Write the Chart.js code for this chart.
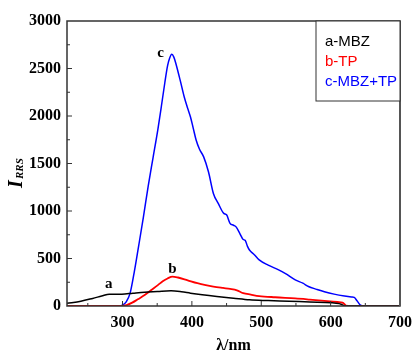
<!DOCTYPE html>
<html>
<head>
<meta charset="utf-8">
<script src="https://cdn.jsdelivr.net/npm/chart.js@4/dist/chart.umd.min.js"></script>
<style>
  html, body { margin: 0; padding: 0; background: #fff; }
  #wrap { width: 419px; height: 355px; position: relative; }
</style>
</head>
<body>
<div id="wrap"><canvas id="rrsChart" width="419" height="355"></canvas></div>
<script>
// --- Data ---
const xTicks = [300, 400, 500, 600, 700];
const yTicks = [0, 500, 1000, 1500, 2000, 2500, 3000];

const mbzX = [220, 240, 257, 270, 281, 299, 315, 332, 350, 370, 385, 398, 415, 436, 460, 483, 510, 540, 570, 601, 612, 617, 621, 640, 700];
const mbzY = [28, 50, 80, 105, 125, 125, 135, 145, 152, 160, 150, 135, 118, 100, 82, 65, 57, 50, 42, 35, 25, 12, 0, 0, 0];

const tpX = [220, 300, 306, 314, 322, 332, 341, 351, 358, 365, 372, 380, 394, 408, 420, 431, 445, 455, 465, 474, 485, 497, 520, 549, 570, 591, 610, 617, 620, 622, 640, 700];
const tpY = [0, 0, 10, 35, 70, 115, 165, 220, 260, 290, 310, 300, 270, 240, 220, 205, 190, 180, 165, 135, 120, 105, 92, 80, 68, 55, 42, 35, 20, 5, 0, 0];

const combX = [220, 297, 300, 305, 311, 317, 323, 330, 337, 344, 351, 356, 361, 365, 368, 371, 374, 377, 383, 389, 394, 398, 402, 406, 411, 417, 424, 431, 438, 446, 450, 455, 460, 464, 469, 474, 477, 480, 483, 490, 497, 510, 525, 535, 549, 560, 568, 580, 591, 605, 620, 630, 634, 638, 643, 650, 700];
const combY = [0, 0, 10, 40, 135, 360, 620, 930, 1260, 1560, 1860, 2100, 2350, 2530, 2610, 2650, 2620, 2550, 2380, 2200, 2080, 1990, 1870, 1750, 1650, 1570, 1410, 1185, 1080, 975, 960, 870, 850, 830, 765, 700, 690, 630, 590, 540, 485, 430, 380, 340, 275, 240, 205, 175, 150, 125, 105, 95, 90, 55, 10, 0, 0];

const seriesNames = ['a-MBZ', 'b-TP', 'c-MBZ+TP'];
const seriesColors = ['#000000', '#ff0000', '#0000ff'];
const curveLabels = [
  { text: 'a', x: 280, y: 230 },
  { text: 'b', x: 372, y: 390 },
  { text: 'c', x: 355, y: 2660 }
];

const toPoints = (xs, ys) => xs.map((x, i) => ({ x, y: ys[i] }));

// --- Frame, inward ticks, curve letters, legend box, y title ---
const decorPlugin = {
  id: 'decor',
  afterDraw(chart) {
    const ctx = chart.ctx;
    const { left, right, top, bottom } = chart.chartArea;
    const xs = chart.scales.x, ys = chart.scales.y;
    ctx.save();

    // frame
    ctx.strokeStyle = '#333';
    ctx.lineWidth = 1.5;
    ctx.strokeRect(left, top, right - left, bottom - top);
    ctx.strokeStyle = '#555';
    ctx.lineWidth = 2;
    ctx.beginPath();
    ctx.moveTo(right, top); ctx.lineTo(right, bottom);
    ctx.stroke();

    // inward ticks
    ctx.strokeStyle = '#333';
    ctx.lineWidth = 1;
    ctx.beginPath();
    for (let v = 250; v < 700; v += 50) {
      const px = xs.getPixelForValue(v);
      const len = v % 100 === 0 ? 5 : 3;
      ctx.moveTo(px, bottom); ctx.lineTo(px, bottom - len);
    }
    for (let v = 250; v < 3000; v += 250) {
      const py = ys.getPixelForValue(v);
      const len = v % 500 === 0 ? 5 : 3;
      ctx.moveTo(left, py); ctx.lineTo(left + len, py);
    }
    ctx.stroke();

    // curve letters
    ctx.fillStyle = '#000';
    ctx.font = 'bold 15px "Liberation Serif", "Times New Roman", serif';
    ctx.textAlign = 'center';
    ctx.textBaseline = 'middle';
    curveLabels.forEach(l => {
      ctx.fillText(l.text, xs.getPixelForValue(l.x), ys.getPixelForValue(l.y));
    });

    // legend box
    ctx.fillStyle = '#fff';
    ctx.fillRect(316, top, right - 316, 80);
    ctx.strokeStyle = '#333';
    ctx.lineWidth = 1;
    ctx.strokeRect(316, top, right - 316, 80);
    ctx.font = '15px "Liberation Sans", Arial, sans-serif';
    ctx.textAlign = 'left';
    seriesNames.forEach((n, i) => {
      ctx.fillStyle = seriesColors[i];
      ctx.fillText(n, 325, 42 + i * 20);
    });

    // y title: I with subscript RRS
    ctx.translate(22, 172);
    ctx.rotate(-Math.PI / 2);
    ctx.fillStyle = '#000';
    ctx.textAlign = 'left';
    ctx.textBaseline = 'alphabetic';
    ctx.font = 'italic bold 20px "Liberation Serif", "Times New Roman", serif';
    ctx.fillText('I', -16, 0);
    ctx.font = 'italic bold 11px "Liberation Serif", "Times New Roman", serif';
    ctx.fillText('RRS', -7, 1);
    ctx.restore();
  }
};

function createChart() {
  const ctx = document.getElementById('rrsChart').getContext('2d');
  const tickFont = { family: '"Liberation Serif", "Times New Roman", serif', size: 16, weight: 'bold' };
  return new Chart(ctx, {
    type: 'line',
    data: {
      datasets: [
        { label: seriesNames[0], data: toPoints(mbzX, mbzY), borderColor: seriesColors[0], borderWidth: 1.5 },
        { label: seriesNames[1], data: toPoints(tpX, tpY), borderColor: seriesColors[1], borderWidth: 1.8 },
        { label: seriesNames[2], data: toPoints(combX, combY), borderColor: seriesColors[2], borderWidth: 1.5 }
      ]
    },
    options: {
      responsive: false,
      animation: false,
      events: [],
      elements: { point: { radius: 0 }, line: { cubicInterpolationMode: 'monotone', fill: false } },
      layout: { padding: { top: 21, right: 12, left: 0, bottom: 0 } },
      plugins: { legend: { display: false }, tooltip: { enabled: false } },
      scales: {
        x: {
          type: 'linear',
          min: 220,
          max: 700,
          grid: { display: false, drawTicks: false },
          border: { display: false },
          afterBuildTicks: scale => { scale.ticks = xTicks.map(v => ({ value: v })); },
          afterFit: scale => { scale.height = 49; },
          ticks: { color: '#000', font: tickFont, padding: 7, maxRotation: 0, autoSkip: false, callback: v => String(v) },
          title: {
            display: true,
            text: 'λ/nm',
            color: '#000',
            font: { family: '"Liberation Serif", "Times New Roman", serif', size: 16, weight: 'bold' },
            padding: { top: 4, bottom: 0 }
          }
        },
        y: {
          min: 0,
          max: 3000,
          grid: { display: false, drawTicks: false },
          border: { display: false },
          afterBuildTicks: scale => { scale.ticks = yTicks.map(v => ({ value: v })); },
          afterFit: scale => { scale.width = 67; },
          ticks: { color: '#000', font: tickFont, padding: 6, autoSkip: false, callback: v => String(v) }
        }
      }
    },
    plugins: [decorPlugin]
  });
}

createChart();
</script>
</body>
</html>
